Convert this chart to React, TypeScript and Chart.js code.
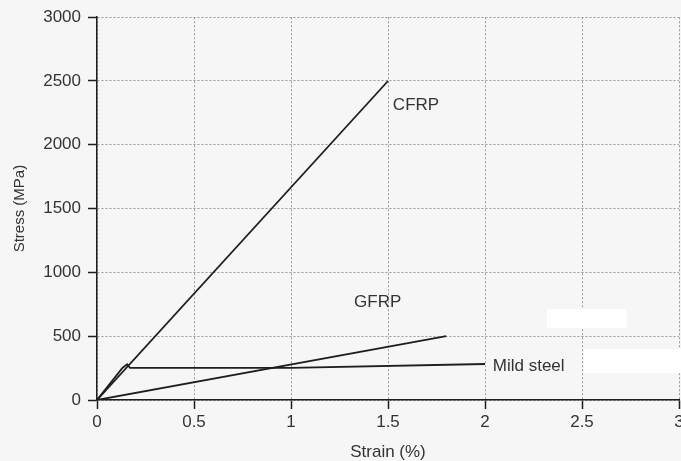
import React, { useEffect, useRef } from "react";
import { Chart, registerables } from "chart.js";

Chart.register(...registerables);

// ---- data ----
const cfrpStrain = [0, 1.5];
const cfrpStress = [0, 2500];
const gfrpStrain = [0, 1.8];
const gfrpStress = [0, 500];
const steelStrain = [0, 0.13, 0.155, 0.17, 1.0, 2.0];
const steelStress = [0, 250, 280, 252, 252, 282];

const xMin = 0;
const xMax = 3;
const xStep = 0.5;
const yMin = 0;
const yMax = 3000;
const yStep = 500;

const labelNames = ["CFRP", "GFRP", "Mild steel"];
const labelStrain = [1.525, 1.325, 2.04];
const labelStress = [2311, 768, 266];

// scan artefacts (white patches), in data units: [x0, x1, y0, y1]
const patchX0 = [2.32, 2.51];
const patchX1 = [2.73, 3.05];
const patchY0 = [566, 211];
const patchY1 = [713, 400];

const FONT = '"Liberation Sans", Arial, Helvetica, sans-serif';
const INK = "#1e1e1e";
const TEXT = "#333333";

const toPts = (xs: number[], ys: number[]) => xs.map((x, i) => ({ x, y: ys[i] }));

export default function App() {
  const ref = useRef<HTMLCanvasElement | null>(null);

  useEffect(() => {
    document.body.style.margin = "0";
    const canvas = ref.current;
    if (!canvas) return;

    const bgPlugin = {
      id: "bg",
      beforeDraw(chart: any) {
        const { ctx, width, height } = chart;
        ctx.save();
        ctx.fillStyle = "#f6f6f6";
        ctx.fillRect(0, 0, width, height);
        ctx.restore();
      },
    };

    const patchPlugin = {
      id: "patches",
      beforeDatasetsDraw(chart: any) {
        const { ctx, scales } = chart;
        ctx.save();
        ctx.fillStyle = "#ffffff";
        for (let i = 0; i < patchX0.length; i++) {
          const x0 = scales.x.getPixelForValue(patchX0[i]);
          const x1 = scales.x.getPixelForValue(patchX1[i]);
          const y0 = scales.y.getPixelForValue(patchY1[i]);
          const y1 = scales.y.getPixelForValue(patchY0[i]);
          ctx.fillRect(x0, y0, x1 - x0, y1 - y0);
        }
        ctx.restore();
      },
    };

    const labelPlugin = {
      id: "labels",
      afterDatasetsDraw(chart: any) {
        const { ctx, scales } = chart;
        ctx.save();
        ctx.font = `17px ${FONT}`;
        ctx.fillStyle = TEXT;
        ctx.textAlign = "left";
        ctx.textBaseline = "middle";
        labelNames.forEach((name, i) => {
          ctx.fillText(
            name,
            scales.x.getPixelForValue(labelStrain[i]),
            scales.y.getPixelForValue(labelStress[i])
          );
        });
        ctx.restore();
      },
    };

    const lineDs = (label: string, xs: number[], ys: number[]) => ({
      label,
      data: toPts(xs, ys),
      borderColor: INK,
      borderWidth: 1.8,
      pointRadius: 0,
      tension: 0,
      fill: false,
    });

    const plain = (v: any) => String(v);

    const chart = new Chart(canvas, {
      type: "line",
      data: {
        datasets: [
          lineDs("CFRP", cfrpStrain, cfrpStress),
          lineDs("GFRP", gfrpStrain, gfrpStress),
          lineDs("Mild steel", steelStrain, steelStress),
        ],
      },
      options: {
        animation: false,
        responsive: false,
        devicePixelRatio: 1,
        layout: { padding: { top: 17, right: 2, bottom: 0, left: 0 } },
        plugins: {
          legend: { display: false },
          tooltip: { enabled: false },
        },
        scales: {
          x: {
            type: "linear",
            min: xMin,
            max: xMax,
            afterFit(scale: any) {
              scale.height = 61;
              scale.paddingRight = 0;
            },
            ticks: {
              stepSize: xStep,
              font: { family: FONT, size: 17 },
              color: TEXT,
              padding: 3,
              maxRotation: 0,
              callback: plain,
            },
            grid: {
              color: "#9a9a9a",
              lineWidth: 1,
              tickLength: 9,
              tickColor: INK,
              tickBorderDash: [],
              tickWidth: 1.5,
            },
            border: { display: true, color: INK, width: 1.5, dash: [2, 2] },
            title: {
              display: true,
              text: "Strain (%)",
              font: { family: FONT, size: 17 },
              color: TEXT,
              padding: { top: 0, bottom: -2 },
            },
          },
          y: {
            type: "linear",
            min: yMin,
            max: yMax,
            afterFit(scale: any) {
              scale.width = 97;
            },
            ticks: {
              stepSize: yStep,
              font: { family: FONT, size: 17 },
              color: TEXT,
              padding: 7,
              callback: plain,
            },
            grid: {
              color: "#9a9a9a",
              lineWidth: 1,
              tickLength: 9,
              tickColor: INK,
              tickBorderDash: [],
              tickWidth: 1.5,
            },
            border: { display: true, color: INK, width: 1.5, dash: [2, 2] },
            title: {
              display: true,
              text: "Stress (MPa)",
              font: { family: FONT, size: 15 },
              color: TEXT,
              padding: { top: 11, bottom: 0 },
            },
          },
        },
      },
      plugins: [bgPlugin, patchPlugin, labelPlugin],
    } as any);

    return () => chart.destroy();
  }, []);

  return (
    <div
      style={{
        position: "fixed",
        left: 0,
        top: 0,
        width: 681,
        height: 461,
        overflow: "hidden",
      }}
    >
      <canvas ref={ref} width={681} height={461} style={{ display: "block" }} />
    </div>
  );
}
